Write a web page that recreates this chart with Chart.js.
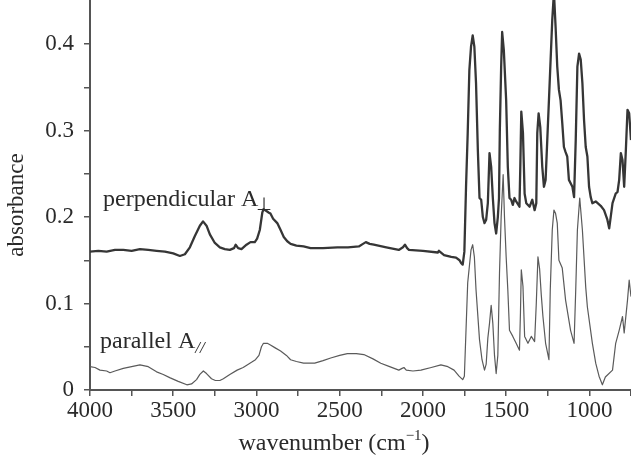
<!DOCTYPE html>
<html>
<head>
<meta charset="utf-8">
<script src="https://cdn.jsdelivr.net/npm/chart.js@4.4.1/dist/chart.umd.min.js"></script>
<style>
  html, body { margin: 0; padding: 0; background: #fff; }
  #wrap { width: 631px; height: 468px; }
</style>
</head>
<body>
<div id="wrap"><canvas id="chart"></canvas></div>
<script>
// perpendicular spectrum (wavenumber, absorbance)
const perpWn = [
  4000, 3950, 3900, 3850, 3800, 3750, 3700, 3650, 3600, 3550, 3500, 3460, 3430, 3400, 3370, 3340, 3321, 3300,
  3280, 3250, 3220, 3190, 3160, 3135, 3125, 3110, 3090, 3060, 3036, 3010, 2996, 2980, 2965, 2958, 2940, 2925,
  2916, 2900, 2875, 2855, 2836, 2815, 2795, 2760, 2717, 2675, 2600, 2514, 2450, 2385, 2360, 2343, 2320, 2295,
  2220, 2145, 2120, 2108, 2095, 2084, 2000, 1911, 1904, 1873, 1830, 1801, 1780, 1771, 1761,
  1751, 1741, 1731, 1721, 1711, 1701, 1691, 1681, 1670, 1660, 1650, 1640, 1630, 1620, 1610, 1600, 1590, 1580,
  1570, 1560, 1550, 1543, 1538, 1530, 1524, 1514, 1500, 1490, 1480, 1470, 1460, 1450, 1440, 1420, 1415, 1409,
  1399, 1389, 1379, 1359, 1343, 1329, 1319, 1313, 1305, 1295, 1283, 1273, 1263, 1253, 1243, 1223, 1213, 1203,
  1193, 1183, 1173, 1163, 1153, 1143, 1133, 1123, 1102, 1092, 1082, 1072, 1062, 1052, 1042, 1032, 1022, 1012,
  1002, 992, 982, 962, 932, 912, 892, 881, 872, 861, 842, 831, 821, 811, 801, 791, 781, 771, 761, 750
];
const perpAbs = [
  0.160, 0.161, 0.160, 0.162, 0.162, 0.161, 0.163, 0.162, 0.161, 0.160, 0.158, 0.155, 0.157, 0.165, 0.178, 0.190, 0.195, 0.190,
  0.180, 0.170, 0.165, 0.163, 0.162, 0.164, 0.168, 0.164, 0.163, 0.168, 0.171, 0.171, 0.175, 0.185, 0.205, 0.209, 0.207, 0.205,
  0.204, 0.198, 0.193, 0.185, 0.177, 0.172, 0.169, 0.167, 0.166, 0.164, 0.164, 0.165, 0.165, 0.166, 0.169, 0.171, 0.169, 0.168,
  0.165, 0.162, 0.165, 0.168, 0.164, 0.162, 0.161, 0.159, 0.161, 0.156, 0.154, 0.153, 0.150, 0.147, 0.145,
  0.160, 0.235, 0.297, 0.370, 0.397, 0.410, 0.397, 0.355, 0.277, 0.222, 0.220, 0.200, 0.193, 0.197, 0.216, 0.274, 0.258, 0.222,
  0.193, 0.181, 0.200, 0.222, 0.300, 0.374, 0.414, 0.393, 0.335, 0.258, 0.222, 0.220, 0.214, 0.222, 0.218, 0.212, 0.258, 0.322,
  0.297, 0.227, 0.216, 0.212, 0.220, 0.208, 0.216, 0.297, 0.320, 0.304, 0.258, 0.235, 0.243, 0.289, 0.335, 0.428, 0.460, 0.420,
  0.374, 0.347, 0.335, 0.309, 0.281, 0.275, 0.270, 0.243, 0.235, 0.223, 0.289, 0.374, 0.389, 0.382, 0.355, 0.312, 0.281, 0.270,
  0.235, 0.223, 0.216, 0.218, 0.213, 0.208, 0.197, 0.187, 0.200, 0.216, 0.227, 0.229, 0.243, 0.274, 0.266, 0.235, 0.277, 0.324, 0.320, 0.289
];

// parallel spectrum (wavenumber, absorbance)
const paraWn = [
  4000, 3970, 3940, 3900, 3880, 3850, 3800, 3750, 3700, 3650, 3600, 3560, 3518, 3470, 3418, 3390, 3360, 3340, 3319,
  3300, 3270, 3247, 3220, 3199, 3160, 3116, 3080, 3056, 3030, 3006, 2985, 2970, 2958, 2935, 2916, 2890, 2855, 2820,
  2795, 2760, 2717, 2650, 2600, 2554, 2500, 2454, 2400, 2355, 2300, 2253, 2200, 2145, 2125, 2114, 2100, 2060, 2012,
  1950, 1892, 1850, 1813, 1783, 1761, 1751, 1741, 1731, 1711, 1701, 1691, 1681, 1660, 1645, 1630, 1620, 1610, 1600,
  1590, 1580, 1570, 1560, 1550, 1540, 1530, 1524, 1518, 1510, 1500, 1490, 1480, 1460, 1440, 1420, 1414, 1409, 1399,
  1389, 1369, 1349, 1329, 1319, 1309, 1299, 1289, 1279, 1263, 1243, 1235, 1223, 1213, 1203, 1193, 1183, 1163, 1143,
  1113, 1092, 1082, 1072, 1058, 1042, 1022, 1012, 982, 962, 942, 922, 904, 861, 842, 821, 801, 791, 771, 761, 750
];
const paraAbs = [
  0.027, 0.026, 0.023, 0.022, 0.020, 0.022, 0.025, 0.027, 0.029, 0.027, 0.021, 0.018, 0.014, 0.010, 0.006, 0.007, 0.012, 0.018, 0.022,
  0.019, 0.013, 0.011, 0.011, 0.013, 0.018, 0.023, 0.026, 0.029, 0.032, 0.035, 0.040, 0.050, 0.054, 0.054, 0.052, 0.049, 0.045, 0.040,
  0.035, 0.033, 0.031, 0.031, 0.034, 0.037, 0.040, 0.042, 0.042, 0.041, 0.036, 0.031, 0.027, 0.023, 0.025, 0.026, 0.023, 0.022, 0.023,
  0.026, 0.029, 0.027, 0.023, 0.016, 0.012, 0.016, 0.070, 0.124, 0.162, 0.168, 0.154, 0.116, 0.058, 0.035, 0.023, 0.030, 0.060, 0.077,
  0.098, 0.077, 0.040, 0.019, 0.040, 0.135, 0.200, 0.225, 0.249, 0.200, 0.154, 0.116, 0.069, 0.062, 0.054, 0.046, 0.090, 0.139, 0.120,
  0.062, 0.054, 0.062, 0.056, 0.100, 0.154, 0.140, 0.110, 0.085, 0.054, 0.035, 0.116, 0.185, 0.208, 0.204, 0.193, 0.150, 0.141, 0.104,
  0.069, 0.054, 0.116, 0.185, 0.222, 0.185, 0.119, 0.096, 0.054, 0.031, 0.016, 0.006, 0.015, 0.023, 0.054, 0.069, 0.085, 0.066, 0.104, 0.127, 0.108
];

const xMin = 750, xMax = 4000, xStep = 250, xLabelEvery = 500;
const yMin = 0, yMax = 0.451, yStep = 0.05;

// where the two curve labels sit (wavenumber, absorbance of the text baseline)
const perpLabelAt = [3922, 0.213];
const paraLabelAt = [3940, 0.049];

const SERIF = '"Liberation Serif", "Times New Roman", serif';
const INK = '#2a2a2a';
const AXIS = '#555';

function toPoints(xs, ys) {
  return xs.map((x, i) => ({ x: x, y: ys[i] }));
}

const textPlugin = {
  id: 'spectrumText',
  afterDraw(chart) {
    const { ctx } = chart;
    const xs = chart.scales.x, ys = chart.scales.y;
    ctx.save();
    ctx.fillStyle = INK;
    ctx.textBaseline = 'alphabetic';
    ctx.textAlign = 'left';

    // perpendicular A⊥
    let px = xs.getPixelForValue(perpLabelAt[0]);
    let py = ys.getPixelForValue(perpLabelAt[1]);
    ctx.font = '24px ' + SERIF;
    ctx.fillText('perpendicular A', px, py);
    let w = ctx.measureText('perpendicular A').width;
    ctx.font = '18px "DejaVu Sans"';
    ctx.fillText('\u22A5', px + w - 2, py + 4);

    // parallel A//
    px = xs.getPixelForValue(paraLabelAt[0]);
    py = ys.getPixelForValue(paraLabelAt[1]);
    ctx.font = '24px ' + SERIF;
    ctx.fillText('parallel A', px, py);
    w = ctx.measureText('parallel A').width;
    ctx.font = 'italic 17px ' + SERIF;
    ctx.fillText('//', px + w, py + 5);

    // x title
    ctx.font = '24px ' + SERIF;
    const t1 = 'wavenumber (cm', t2 = '\u22121', t3 = ')';
    const w1 = ctx.measureText(t1).width;
    ctx.font = '15px ' + SERIF;
    const w2 = ctx.measureText(t2).width;
    ctx.font = '24px ' + SERIF;
    const w3 = ctx.measureText(t3).width;
    const tx = 334 - (w1 + w2 + w3) / 2;
    const tb = 450;
    ctx.fillText(t1, tx, tb);
    ctx.font = '15px ' + SERIF;
    ctx.fillText(t2, tx + w1, tb - 10);
    ctx.font = '24px ' + SERIF;
    ctx.fillText(t3, tx + w1 + w2, tb);

    // y title
    ctx.font = '23px ' + SERIF;
    ctx.translate(23, 205);
    ctx.rotate(-Math.PI / 2);
    ctx.textAlign = 'center';
    ctx.fillText('absorbance', 0, 0);
    ctx.restore();
  }
};

new Chart(document.getElementById('chart'), {
  type: 'line',
  data: {
    datasets: [
      {
        label: 'perpendicular',
        data: toPoints(perpWn, perpAbs),
        borderColor: '#363636',
        borderWidth: 2.3,
      },
      {
        label: 'parallel',
        data: toPoints(paraWn, paraAbs),
        borderColor: '#5a5a5a',
        borderWidth: 1.2,
      },
    ],
  },
  options: {
    responsive: true,
    maintainAspectRatio: false,
    animation: false,
    devicePixelRatio: 1,
    layout: { padding: 0 },
    elements: {
      point: { radius: 0 },
      line: { tension: 0, borderJoinStyle: 'round' },
    },
    plugins: {
      legend: { display: false },
      tooltip: { enabled: false },
    },
    scales: {
      x: {
        type: 'linear',
        reverse: true,
        min: xMin,
        max: xMax,
        afterFit: s => { s.height = 78; s.paddingLeft = 0; s.paddingRight = 0; },
        border: { display: true, color: AXIS, width: 2 },
        grid: { drawOnChartArea: false, drawTicks: true, tickLength: 6, color: AXIS, lineWidth: 1.5 },
        ticks: {
          stepSize: xStep,
          autoSkip: false,
          maxRotation: 0,
          padding: 1,
          color: INK,
          font: { family: SERIF, size: 23 },
          callback: v => (Math.round(v) % xLabelEvery === 0 ? String(Math.round(v)) : ''),
        },
      },
      y: {
        min: yMin,
        max: yMax,
        afterFit: s => { s.width = 90; s.paddingTop = 0; s.paddingBottom = 0; },
        border: { display: true, color: AXIS, width: 2 },
        grid: { drawOnChartArea: false, drawTicks: true, tickLength: 6, color: AXIS, lineWidth: 1.5 },
        ticks: {
          stepSize: yStep,
          includeBounds: false,
          autoSkip: false,
          padding: 10,
          color: INK,
          font: { family: SERIF, size: 23 },
          callback: v => {
            if (v > 0.449) return null;
            const k = Math.round(v * 10);
            if (Math.abs(v * 10 - k) > 1e-6) return '';
            return k === 0 ? '0' : (k / 10).toFixed(1);
          },
        },
      },
    },
  },
  plugins: [textPlugin],
});
</script>
</body>
</html>
